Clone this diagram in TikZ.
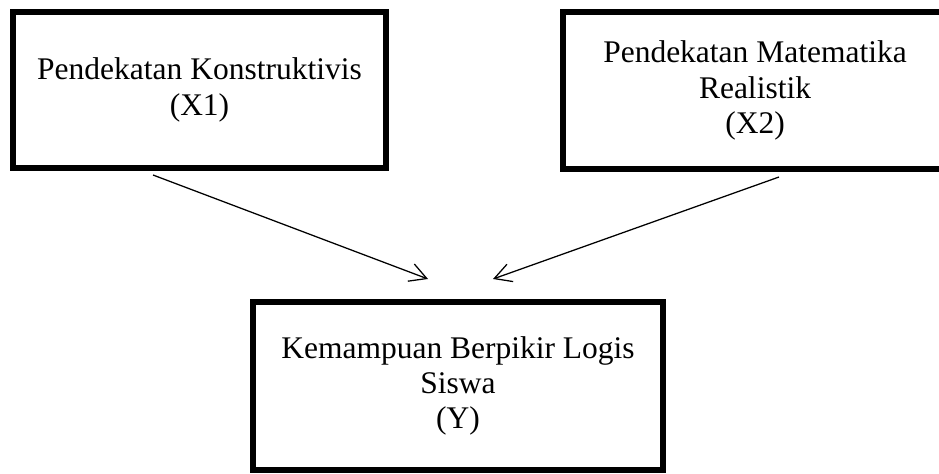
\documentclass[tikz,border=0pt]{standalone}
\usepackage{fontspec}
\setmainfont{Liberation Serif}
\usetikzlibrary{arrows.meta}
\tikzstyle{var}=[rectangle,draw=black,line width=3.9pt,align=center,
  inner sep=0pt,font=\fontsize{22.4}{25}\selectfont]
\tikzstyle{infl}=[-{Straight Barb[length=4.2mm,width=4.6mm]},line width=0.9pt]
\tikzstyle{none}=[]

\begin{document}
\begin{tikzpicture}[x=0.025cm,y=-0.025cm]
		\useasboundingbox (0,0) rectangle (939,473);
		\node [style=var,minimum width=9.325cm,minimum height=3.9cm] (x1) at (199.5,90) {Pendekatan Konstruktivis\\(X1)};
		\node [style=var,minimum width=9.6cm,minimum height=3.925cm] (x2) at (755,90.5) {Pendekatan Matematika\\Realistik\\(X2)};
		\node [style=var,minimum width=10.25cm,minimum height=4.2cm] (y) at (458,386) {Kemampuan Berpikir Logis\\Siswa\\(Y)};
		\coordinate (x1out) at (153,175);
		\coordinate (x2out) at (779,177);
		\coordinate (yin1) at (428,279);
		\coordinate (yin2) at (493,279);
		\draw [style=infl] (x1out) to (yin1);
		\draw [style=infl] (x2out) to (yin2);
\end{tikzpicture}
\end{document}
